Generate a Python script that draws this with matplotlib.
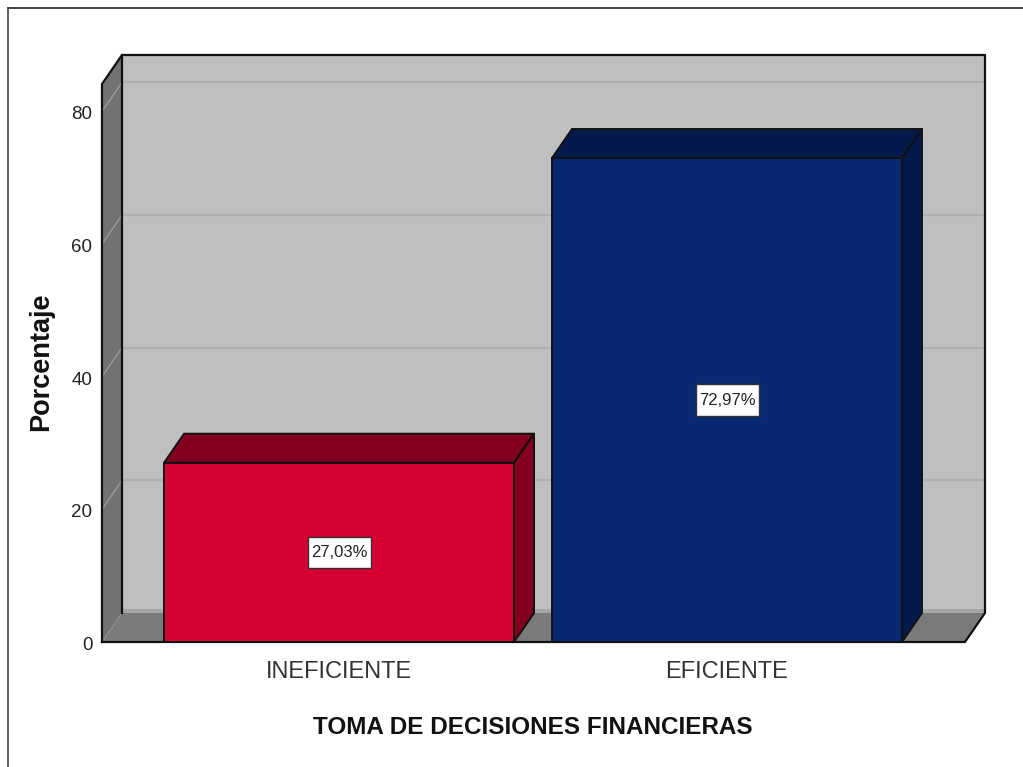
import matplotlib
matplotlib.use("Agg")
import matplotlib.pyplot as plt
from matplotlib.patches import Polygon, Rectangle
from matplotlib.lines import Line2D
from matplotlib.transforms import ScaledTranslation

categories = ["INEFICIENTE", "EFICIENTE"]
values = [27.03, 72.97]
value_labels = ["27,03%", "72,97%"]
y_ticks = [0, 20, 40, 60, 80]

front_colors = ["#d60032", "#082872"]
dark_colors = ["#82001e", "#041a4c"]

W, H = 1023, 767
plt.rcParams['font.family'] = ['Liberation Sans', 'DejaVu Sans']

fig = plt.figure(figsize=(W / 100, H / 100), dpi=100)
ax = fig.add_axes([102 / W, 1 - 642 / H, (985 - 102) / W, (642 - 55) / H])

# one category = 388 px, one percent = 6.63 px
xlim = (-0.611, 1.665)
ylim = (0, 88.5)
ax.set_xlim(xlim)
ax.set_ylim(ylim)
dx = 20 / 388
dy = 29 / 6.63
width = 350 / 388
x0, x1 = xlim[0], xlim[1] - dx
top = ylim[1] - dy

def poly(pts, fc, ec="#111111", lw=1.4, z=1):
    ax.add_patch(Polygon(pts, closed=True, facecolor=fc, edgecolor=ec, linewidth=lw,
                         zorder=z, joinstyle="round", clip_on=False))

# back wall, side wall, floor
poly([(x0 + dx, dy), (x1 + dx, dy), (x1 + dx, top + dy), (x0 + dx, top + dy)], "#bfbfbf", ec="none")
poly([(x0, 0), (x0 + dx, dy), (x0 + dx, top + dy), (x0, top)], "#727272", ec="none")
poly([(x0 + dx, dy), (x1 + dx, dy), (x1 + dx, dy + 0.6), (x0 + dx, dy + 0.6)], "#a6a6a6", ec="none", z=1.1)
poly([(x0, 0), (x1, 0), (x1 + dx, dy), (x0 + dx, dy)], "#7a7a7a", ec="none", z=1.2)

# grid lines on both walls
for t in y_ticks[1:]:
    ax.plot([x0 + dx, x1 + dx], [t + dy, t + dy], color="#afafaf", lw=1.6, zorder=1.3,
            solid_capstyle="butt")
    ax.plot([x0, x0 + dx], [t, t + dy], color="#969696", lw=1.2, zorder=1.3)
ax.plot([x0, x0 + dx], [0, dy], color="#969696", lw=0.8, ls=":", zorder=1.3)

# box outline, the floor back edge stays open
ax.plot([x0, x0, x0 + dx, x1 + dx, x1 + dx, x1, x0], [0, top, top + dy, top + dy, dy, 0, 0],
        color="#111111", lw=1.6, zorder=1.4, clip_on=False, solid_joinstyle="round")
ax.plot([x0 + dx, x0 + dx], [dy, top + dy], color="#111111", lw=1.6, zorder=1.4, clip_on=False)

# bars
for i, v in enumerate(values):
    l, r = i - width / 2, i + width / 2
    poly([(l, v), (r, v), (r + dx, v + dy), (l + dx, v + dy)], dark_colors[i], z=3)
    poly([(r, 0), (r + dx, dy), (r + dx, v + dy), (r, v)], dark_colors[i], z=3)
bars = ax.bar(range(len(values)), values, width=width, color=front_colors, edgecolor="#111111",
              linewidth=1.4, zorder=4)
for b in bars:
    b.set_clip_on(False)

box_w = 63 / 388
box_h = 31 / 6.63
for i, v in enumerate(values):
    ax.add_patch(Rectangle((i - box_w / 2, v / 2 - box_h / 2), box_w, box_h, facecolor="white",
                           edgecolor="#333333", linewidth=1.0, zorder=5))
    ax.text(i, v / 2, value_labels[i], ha="center", va="center", fontsize=12, color="#222222", zorder=6)

ax.set_xticks(range(len(categories)))
ax.set_xticklabels(categories, fontsize=17, color="#333333")
ax.set_yticks(y_ticks)
ax.set_yticklabels([str(t) for t in y_ticks], fontsize=13.5, color="#222222")
ax.tick_params(axis="both", length=0)
ax.tick_params(axis="x", pad=14)
ax.tick_params(axis="y", pad=7)
# y labels sit a little under their gridline
shift = ScaledTranslation(0, -1.5 / 100, fig.dpi_scale_trans)
for lab in ax.get_yticklabels():
    lab.set_transform(lab.get_transform() + shift)
for s in ax.spines.values():
    s.set_visible(False)
ax.patch.set_visible(False)

fig.text(533 / W, 1 - 727 / H, "TOMA DE DECISIONES FINANCIERAS", ha="center", va="center",
         fontsize=17.5, fontweight="bold", color="#111111")
fig.text(41 / W, 1 - 362 / H, "Porcentaje", ha="center", va="center", rotation=90,
         fontsize=19.5, fontweight="bold", color="#111111")

# outer frame, only top and left show
fig.add_artist(Line2D([8 / W, 1], [1 - 8 / H, 1 - 8 / H], color="#222222", lw=1.2))
fig.add_artist(Line2D([8 / W, 8 / W], [0, 1 - 8 / H], color="#444444", lw=1.2))

fig.savefig("out.png", dpi=100)
